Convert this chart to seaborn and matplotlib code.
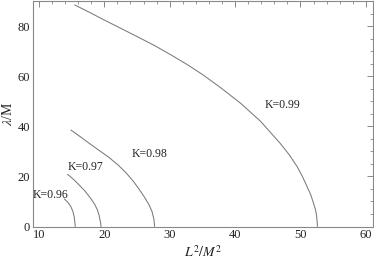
import matplotlib
matplotlib.use("Agg")
import matplotlib.pyplot as plt
import seaborn as sns
import pandas as pd
from matplotlib.ticker import MultipleLocator

# Data
k099_x = [15.5, 17.8, 20.0, 22.6, 25.1, 27.7, 30.2, 32.7, 35.0, 37.8, 40.8,
          43.9, 46.9, 48.3, 49.5, 50.3, 51.0, 51.6, 52.0, 52.3, 52.45, 52.55, 52.6]
k099_y = [88.4, 85.4, 82.4, 79.0, 75.7, 72.2, 68.5, 64.6, 60.7, 55.4, 49.3,
          42.0, 33.2, 28.6, 23.9, 20.0, 16.0, 12.5, 9.3, 6.8, 4.6, 2.2, 0.0]
k098_x = [14.9, 16.3, 17.7, 19.2, 20.7, 22.1, 23.3, 24.4, 25.3, 26.1, 26.8, 27.3, 27.6, 27.7]
k098_y = [38.5, 35.9, 33.2, 30.4, 27.6, 24.6, 21.5, 18.2, 15.0, 11.9, 8.9, 6.0, 2.8, 0.0]
k097_x = [14.4, 15.3, 16.15, 17.1, 17.9, 18.5, 18.96, 19.25, 19.45, 19.5]
k097_y = [20.8, 18.8, 16.6, 14.0, 11.3, 9.0, 6.6, 4.0, 1.3, 0.0]
k096_x = [13.9, 14.45, 14.9, 15.2, 15.4, 15.5, 15.55]
k096_y = [11.0, 9.6, 7.9, 6.0, 3.9, 1.8, 0.0]

labels = ["K=0.99", "K=0.98", "K=0.97", "K=0.96"]
label_x = [47.3, 27.0, 17.1, 11.8]
label_y = [48.4, 29.0, 23.7, 12.4]

xs = [k099_x, k098_x, k097_x, k096_x]
ys = [k099_y, k098_y, k097_y, k096_y]
frames = []
for lab, x, y in zip(labels, xs, ys):
    frames.append(pd.DataFrame({"x": x, "y": y, "K": lab}))
df = pd.concat(frames, ignore_index=True)

sns.set_theme(style="white")
plt.rcParams["font.family"] = ["Liberation Serif", "DejaVu Serif"]
plt.rcParams["mathtext.fontset"] = "stix"

fig = plt.figure(figsize=(3.74, 2.64), dpi=100)
ax = fig.add_axes([33 / 374, 37.5 / 264, 340 / 374, 226 / 264])

for lab in labels:
    sub = df[df["K"] == lab]
    sns.lineplot(data=sub, x="x", y="y", sort=False, estimator=None,
                 color="#7a7a7a", linewidth=0.75, ax=ax)

for t, x, y in zip(labels, label_x, label_y):
    ax.text(x, y, t, fontsize=8.5, ha="center", va="center", color="#222222")

ax.set_xlim(9.1, 61.1)
ax.set_ylim(0, 90.2)
ax.xaxis.set_major_locator(MultipleLocator(10))
ax.xaxis.set_minor_locator(MultipleLocator(2))
ax.yaxis.set_major_locator(MultipleLocator(20))
ax.yaxis.set_minor_locator(MultipleLocator(5))
ax.tick_params(which="both", direction="in", top=True, right=True,
               color="#888888", labelsize=9, labelcolor="#222222", pad=2)
ax.tick_params(which="major", length=4, width=0.7)
ax.tick_params(which="minor", length=2, width=0.6)
ax.tick_params(axis="both", which="both", labeltop=False, labelright=False)
for s in ax.spines.values():
    s.set_color("#888888")
    s.set_linewidth(0.8)

ax.set_xlabel("$L^2/M^2$", fontsize=10, color="#222222", labelpad=2)
ax.set_ylabel("$\\lambda$/M", fontsize=10, color="#222222", labelpad=2)

fig.savefig("out.png", dpi=100)
